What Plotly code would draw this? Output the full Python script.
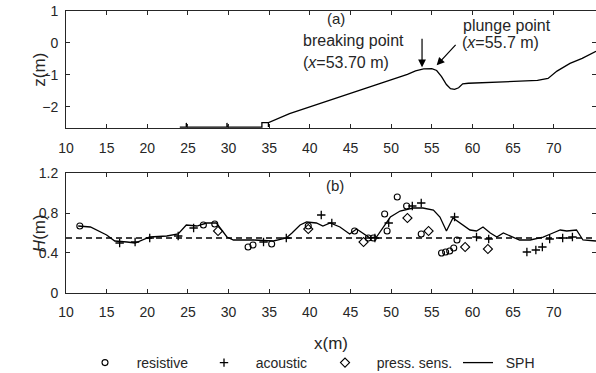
import plotly.graph_objects as go

# ---------------- data ----------------
# (a) bathymetry profile
bed_x = [24.0, 24.8, 24.8, 24.85, 29.8, 29.8, 29.85, 34.1, 34.1, 34.9, 34.9, 34.9, 37.5, 38.8, 41.0, 44.0,
         47.0, 50.0, 52.0, 53.0, 54.0, 55.0, 55.6, 56.2, 56.8, 57.3, 57.8, 58.3, 58.8, 59.5, 62.0,
         65.0, 68.0, 69.3, 70.4, 72.0, 73.5, 75.2]
bed_z = [-2.63, -2.63, -2.5, -2.63, -2.63, -2.5, -2.63, -2.63, -2.49, -2.49, -2.63, -2.49, -2.21, -2.1, -1.9, -1.64,
         -1.39, -1.13, -0.98, -0.87, -0.81, -0.80, -0.86, -1.05, -1.30, -1.43, -1.45, -1.40, -1.28, -1.26, -1.24,
         -1.21, -1.17, -1.11, -0.88, -0.64, -0.48, -0.26]

# (b) wave heights
sph_x = [11.5, 13.0, 15.0, 16.0, 17.5, 18.5, 20.3, 22.4, 23.8, 24.8, 26.1, 27.3, 28.5, 29.2, 29.8,
         30.6, 33.1, 35.5, 37.1, 37.8, 38.8, 39.6, 40.8, 41.6, 42.5, 43.7, 44.9, 45.75, 46.6, 47.4,
         48.2, 49.0, 49.9, 51.1, 52.7, 53.9, 55.2, 56.0, 56.8, 57.6, 58.5, 59.7, 60.5, 61.3, 62.2,
         63.0, 63.8, 65.0, 65.8, 67.1, 68.7, 69.9, 70.8, 71.6, 72.8, 73.6, 75.2]
sph_H = [0.67, 0.66, 0.58, 0.52, 0.51, 0.50, 0.56, 0.57, 0.59, 0.68, 0.67, 0.70, 0.70, 0.63, 0.56,
         0.53, 0.53, 0.52, 0.55, 0.60, 0.68, 0.71, 0.70, 0.67, 0.70, 0.66, 0.59, 0.64, 0.59, 0.55,
         0.56, 0.66, 0.76, 0.82, 0.85, 0.85, 0.83, 0.76, 0.62, 0.75, 0.70, 0.63, 0.62, 0.66, 0.60,
         0.56, 0.60, 0.56, 0.53, 0.53, 0.56, 0.60, 0.63, 0.62, 0.63, 0.53, 0.52]

resistive_x = [11.7, 26.9, 28.3, 32.4, 33.0, 35.3, 39.8, 45.5, 47.2, 47.8, 49.2, 49.5, 50.75, 51.9,
               53.7, 56.2, 56.7, 57.2, 57.7, 58.1]
resistive_H = [0.67, 0.68, 0.69, 0.46, 0.48, 0.49, 0.67, 0.62, 0.55, 0.55, 0.79, 0.62, 0.96, 0.87,
               0.59, 0.40, 0.41, 0.42, 0.45, 0.53]

acoustic_x = [16.6, 18.5, 20.3, 23.8, 25.7, 34.3, 37.1, 41.4, 42.7, 48.0, 49.7, 52.6, 53.7, 57.8,
              60.5, 62.0, 66.7, 67.8, 68.6, 69.5, 71.1, 72.3]
acoustic_H = [0.50, 0.51, 0.55, 0.57, 0.65, 0.51, 0.55, 0.78, 0.70, 0.55, 0.70, 0.87, 0.90, 0.76,
              0.56, 0.54, 0.41, 0.43, 0.46, 0.54, 0.55, 0.56]

press_x = [28.7, 39.8, 46.6, 52.0, 54.6, 59.1, 61.9]
press_H = [0.62, 0.64, 0.51, 0.75, 0.62, 0.46, 0.44]

mean_H = 0.55
x_range = [10, 75.2]
x_ticks = [10, 15, 20, 25, 30, 35, 40, 45, 50, 55, 60, 65, 70]
z_ticks = [-2, -1, 0, 1]
H_ticks = [0, 0.4, 0.8, 1.2]
H_ticktext = ["0", "0.4", "0.8", "1.2"]

# ---------------- figure ----------------
AX = "#262626"
FONT = "Liberation Sans, Arial, sans-serif"

fig = go.Figure()

fig.add_trace(go.Scatter(x=bed_x, y=bed_z, mode="lines", line=dict(color="black", width=1.3),
                         showlegend=False, xaxis="x", yaxis="y", hoverinfo="skip"))

fig.add_trace(go.Scatter(x=x_range, y=[mean_H, mean_H], mode="lines",
                         line=dict(color="black", width=1.5, dash="6px,4px"),
                         showlegend=False, xaxis="x2", yaxis="y2"))

fig.add_trace(go.Scatter(x=resistive_x, y=resistive_H, mode="markers", name="   resistive",
                         legendwidth=74,
                         marker=dict(symbol="circle-open", size=6, color="black", line=dict(width=1.1)),
                         xaxis="x2", yaxis="y2"))
fig.add_trace(go.Scatter(x=acoustic_x, y=acoustic_H, mode="markers", name="   acoustic",
                         legendwidth=76,
                         marker=dict(symbol="cross-thin-open", size=6, color="black", line=dict(width=1.3)),
                         xaxis="x2", yaxis="y2"))
fig.add_trace(go.Scatter(x=press_x, y=press_H, mode="markers", name="   press. sens.",
                         legendwidth=88,
                         marker=dict(symbol="diamond-open", size=7, color="black", line=dict(width=1.1)),
                         xaxis="x2", yaxis="y2"))
fig.add_trace(go.Scatter(x=sph_x, y=sph_H, mode="lines", name="  SPH",
                         legendwidth=40,
                         line=dict(color="black", width=1.3),
                         xaxis="x2", yaxis="y2"))

axis_common = dict(showline=True, linecolor=AX, linewidth=1, mirror="allticks", ticks="inside",
                   ticklen=4, tickcolor=AX, showgrid=False, zeroline=False, ticklabeloverflow="allow",
                   automargin=False, tickfont=dict(family=FONT, size=14, color=AX))

fig.update_layout(
    width=596, height=373,
    margin=dict(l=66, r=0, t=11, b=80, autoexpand=False),
    paper_bgcolor="white", plot_bgcolor="white",
    font=dict(family=FONT, color=AX),
    xaxis=dict(domain=[0, 1], range=x_range, tickvals=x_ticks, anchor="y",
               ticklabelstandoff=7, **axis_common),
    yaxis=dict(domain=[0.585, 1], range=[-2.66, 1], tickvals=z_ticks, anchor="x",
               ticklabelstandoff=4, **axis_common),
    xaxis2=dict(domain=[0, 1], range=x_range, tickvals=x_ticks, anchor="y2", ticklabelstandoff=6,
                **axis_common),
    yaxis2=dict(domain=[0, 0.4255], range=[0, 1.2], tickvals=H_ticks, ticktext=H_ticktext,
                anchor="x2", ticklabelstandoff=4, **axis_common),
    legend=dict(orientation="h", xref="container", yref="container", x=85 / 596, y=1 - 363 / 373,
                xanchor="left", yanchor="middle",
                font=dict(family=FONT, size=14, color=AX), bgcolor="rgba(0,0,0,0)",
                tracegroupgap=0, itemwidth=30),
)

ann = []
ann.append(dict(text="x(m)", x=0.5, y=-50 / 282, xref="paper", yref="paper",
                xanchor="center", yanchor="middle", showarrow=False,
                font=dict(family=FONT, size=17, color=AX)))
ann.append(dict(text="z(m)", x=-0.0507, y=(0.585 + 1) / 2, xref="paper", yref="paper",
                xanchor="center", yanchor="middle",
                textangle=-90, showarrow=False, font=dict(family=FONT, size=17, color=AX)))
ann.append(dict(text="<i>H</i>(m)", x=-0.0507, y=0.4255 / 2, xref="paper", yref="paper",
                xanchor="center", yanchor="middle",
                textangle=-90, showarrow=False, font=dict(family=FONT, size=17, color=AX)))
ann.append(dict(text="(a)", x=43.2, y=0.77, xref="x", yref="y", showarrow=False,
                font=dict(family=FONT, size=15, color=AX)))
ann.append(dict(text="(b)", x=43.1, y=1.08, xref="x2", yref="y2", showarrow=False,
                font=dict(family=FONT, size=15, color=AX)))
ann.append(dict(text="breaking point", x=38.9, y=0.065, xref="x", yref="y", xanchor="left",
                showarrow=False, font=dict(family=FONT, size=16, color=AX)))
ann.append(dict(text="(<i>x</i>=53.70 m)", x=38.9, y=-0.615, xref="x", yref="y", xanchor="left",
                showarrow=False, font=dict(family=FONT, size=16, color=AX)))
ann.append(dict(text="plunge point", x=58.6, y=0.545, xref="x", yref="y", xanchor="left",
                showarrow=False, font=dict(family=FONT, size=16, color=AX)))
ann.append(dict(text="(<i>x</i>=55.7 m)", x=58.5, y=0.015, xref="x", yref="y", xanchor="left",
                showarrow=False, font=dict(family=FONT, size=16, color=AX)))
# arrows
ann.append(dict(text="", x=53.8, y=-0.76, ax=53.8, ay=0.18, xref="x", yref="y", axref="x", ayref="y",
                showarrow=True, arrowhead=2, arrowsize=1.3, arrowwidth=1.2, arrowcolor="black"))
ann.append(dict(text="", x=55.6, y=-0.70, ax=58.1, ay=-0.01, xref="x", yref="y", axref="x", ayref="y",
                showarrow=True, arrowhead=2, arrowsize=1.3, arrowwidth=1.2, arrowcolor="black"))
fig.update_layout(annotations=ann)

fig.write_html("out.html", config={"displayModeBar": False},
               post_script="document.body.style.margin='0';")
